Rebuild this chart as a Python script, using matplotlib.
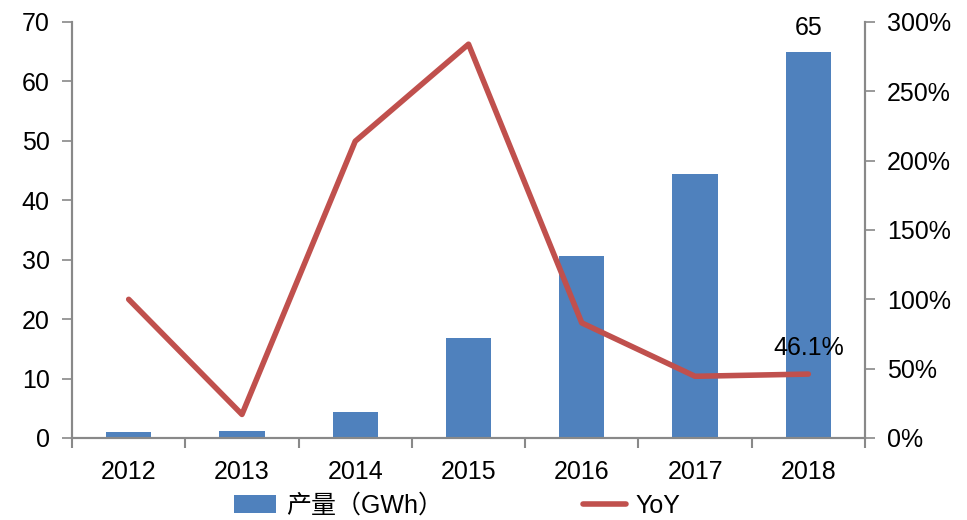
import matplotlib
matplotlib.use('Agg')
import matplotlib.pyplot as plt
from matplotlib.ticker import FuncFormatter
import numpy as np

plt.rcParams['font.family'] = ['Liberation Sans', 'Noto Sans CJK SC', 'DejaVu Sans']

years = ['2012', '2013', '2014', '2015', '2016', '2017', '2018']
output = [1.05, 1.25, 4.3, 16.8, 30.7, 44.4, 65]
yoy = [1.00, 0.17, 2.14, 2.84, 0.83, 0.445, 0.461]

bar_c = '#4F81BD'
line_c = '#C0504D'
axis_c = '#898989'
fs = 18

fig = plt.figure(figsize=(9.67, 5.2), dpi=100)
ax = fig.add_axes([0.0745, 0.1577, 0.82, 0.8])
ax2 = ax.twinx()

x = np.arange(len(years))
ax.bar(x, output, width=0.4, color=bar_c, zorder=2, label='产量（GWh）')
ax2.plot(x, yoy, color=line_c, lw=4, solid_capstyle='round', zorder=3, label='YoY')

ax.set_xlim(-0.5, len(years) - 0.5)
ax.set_ylim(0, 70)
ax.set_yticks(np.arange(0, 71, 10))
ax2.set_ylim(0, 3.0)
ax2.set_yticks(np.arange(0, 3.01, 0.5))
ax2.yaxis.set_major_formatter(FuncFormatter(lambda v, p: '{:.0f}%'.format(v * 100)))

# category labels centred, ticks on category boundaries
ax.set_xticks(x)
ax.set_xticklabels(years)
ax.set_xticks(np.arange(-0.5, len(years), 1), minor=True)
ax.tick_params(axis='x', which='major', length=0, pad=16, labelsize=fs)
ax.tick_params(axis='x', which='minor', length=7, width=1.5, color=axis_c, direction='out')
ax.tick_params(axis='y', length=7, width=1.2, color=axis_c, labelsize=fs, pad=9)
ax2.tick_params(axis='y', length=7, width=1.2, color=axis_c, labelsize=fs, pad=9)

for a in (ax, ax2):
    a.spines['top'].set_visible(False)
    for s in ('left', 'right', 'bottom'):
        a.spines[s].set_color(axis_c)
        a.spines[s].set_linewidth(1.5)

ax.text(x[-1], output[-1] + 2, '{:.0f}'.format(output[-1]), ha='center', va='bottom', fontsize=fs)
ax2.text(x[-1], yoy[-1] + 0.1, '{:.1f}%'.format(yoy[-1] * 100), ha='center', va='bottom', fontsize=fs)

h1, l1 = ax.get_legend_handles_labels()
h2, l2 = ax2.get_legend_handles_labels()
fig.legend(h1 + h2, l1 + l2, loc='center', bbox_to_anchor=(0.473, 0.027), ncol=2,
           frameon=False, fontsize=fs, handlelength=1.7, handleheight=0.75,
           columnspacing=5.6, handletextpad=0.4, borderaxespad=0, borderpad=0)

fig.savefig('out.png', dpi=100)
